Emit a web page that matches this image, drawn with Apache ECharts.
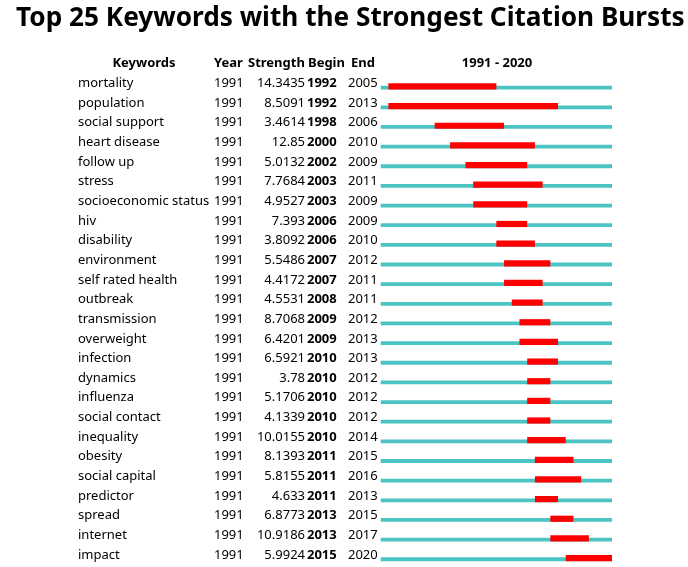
<!DOCTYPE html>
<html><head><meta charset="utf-8">
<script src="https://cdn.jsdelivr.net/npm/echarts@6/dist/echarts.min.js"></script>
<style>html,body{margin:0;padding:0;background:#fff}#c{width:688px;height:567px}</style>
</head><body><div id="c"></div>
<script>
const keywords = ["mortality","population","social support","heart disease","follow up","stress","socioeconomic status","hiv","disability","environment","self rated health","outbreak","transmission","overweight","infection","dynamics","influenza","social contact","inequality","obesity","social capital","predictor","spread","internet","impact"];
const years = [1991,1991,1991,1991,1991,1991,1991,1991,1991,1991,1991,1991,1991,1991,1991,1991,1991,1991,1991,1991,1991,1991,1991,1991,1991];
const strengths = ["14.3435","8.5091","3.4614","12.85","5.0132","7.7684","4.9527","7.393","3.8092","5.5486","4.4172","4.5531","8.7068","6.4201","6.5921","3.78","5.1706","4.1339","10.0155","8.1393","5.8155","4.633","6.8773","10.9186","5.9924"];
const begins = [1992,1992,1998,2000,2002,2003,2003,2006,2006,2007,2007,2008,2009,2009,2010,2010,2010,2010,2010,2011,2011,2011,2013,2013,2015];
const ends = [2005,2013,2006,2010,2009,2011,2009,2009,2010,2012,2011,2011,2012,2013,2013,2012,2012,2012,2014,2015,2016,2013,2015,2017,2020];
const headers = ["Keywords","Year","Strength","Begin","End"];
const rangeStart = 1991, rangeEnd = 2020;

const FONT = '"Noto Sans", "Open Sans", sans-serif';
const chart = echarts.init(document.getElementById('c'));
const rows = keywords.map((k, i) => [i, begins[i], ends[i], years[i], strengths[i]]);

chart.setOption({
  animation: false,
  title: {
    text: 'Top 25 Keywords with the Strongest Citation Bursts',
    left: 11, top: 1,
    textStyle: { fontFamily: FONT, fontSize: 26.2, fontWeight: 'bold', color: '#000' }
  },
  grid: { left: 380.7, right: 76, top: 73.5, bottom: 2.2 },
  xAxis: { type: 'value', min: rangeStart, max: rangeEnd + 1, show: false },
  yAxis: { type: 'category', data: keywords, inverse: true, show: false },
  graphic: [
    { type: 'text', x: 144, y: 63, style: { text: headers[0], font: 'bold 13px ' + FONT, fill: '#000', align: 'center', verticalAlign: 'middle' } },
    { type: 'text', x: 214, y: 63, style: { text: headers[1], font: 'bold 13px ' + FONT, fill: '#000', align: 'left', verticalAlign: 'middle' } },
    { type: 'text', x: 248, y: 63, style: { text: headers[2], font: 'bold 13px ' + FONT, fill: '#000', align: 'left', verticalAlign: 'middle' } },
    { type: 'text', x: 308, y: 63, style: { text: headers[3], font: 'bold 13px ' + FONT, fill: '#000', align: 'left', verticalAlign: 'middle' } },
    { type: 'text', x: 351, y: 63, style: { text: headers[4], font: 'bold 13px ' + FONT, fill: '#000', align: 'left', verticalAlign: 'middle' } },
    { type: 'text', x: 497, y: 63, style: { text: rangeStart + ' - ' + rangeEnd, font: 'bold 13px ' + FONT, fill: '#000', align: 'center', verticalAlign: 'middle' } }
  ],
  series: [{
    type: 'custom',
    data: rows,
    encode: { y: 0, x: [1, 2] },
    renderItem: function (params, api) {
      const idx = api.value(0);
      const y = api.coord([rangeStart, idx])[1];
      const x0 = api.coord([rangeStart, idx])[0];
      const x1 = api.coord([rangeEnd + 1, idx])[0];
      const bx0 = api.coord([api.value(1), idx])[0];
      const bx1 = api.coord([api.value(2) + 1, idx])[0];
      const txt = (t, x, align, bold) => ({
        type: 'text', x: x, y: y,
        style: { text: String(t), font: (bold ? 'bold ' : '') + '13px ' + FONT, fill: '#000', align: align, verticalAlign: 'middle' }
      });
      return {
        type: 'group',
        children: [
          { type: 'rect', shape: { x: x0, y: y + 2.4, width: x1 - x0, height: 3.8 }, style: { fill: '#4cc4c4' } },
          { type: 'rect', shape: { x: bx0, y: y, width: bx1 - bx0, height: 6.2 }, style: { fill: '#ff0000' } },
          txt(keywords[idx], 78, 'left', false),
          txt(api.value(3), 214, 'left', false),
          txt(strengths[idx], 305, 'right', false),
          txt(api.value(1), 307, 'left', true),
          txt(api.value(2), 348, 'left', false)
        ]
      };
    }
  }]
});
</script></body></html>
